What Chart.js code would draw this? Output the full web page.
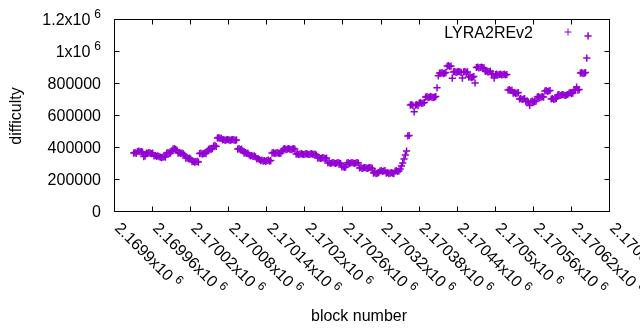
<!DOCTYPE html>
<html><head><meta charset="utf-8">
<script src="https://cdn.jsdelivr.net/npm/chart.js@4.4.1/dist/chart.umd.min.js"></script>
<style>html,body{margin:0;padding:0;background:#fff;}#wrap{width:640px;height:330px;}</style>
</head><body><div id="wrap"><canvas id="c" width="640" height="330"></canvas></div>
<script>
const seriesName = 'LYRA2REv2';
const xTitle = 'block number';
const yTitle = 'difficulty';
// sampled blocks: first block number and spacing between sampled blocks
const firstBlock = 2169931;
const blockStep = 2;
const difficulty = [
  362000, 365000, 360000,
  372000, 375000, 370000, 372000, 368000,
  340000, 345000,
  362000, 360000, 365000, 362000, 358000, 362000,
  344000, 347000, 342000, 344000, 340000,
  337000, 334000, 337000, 340000, 337000,
  362000, 365000, 360000, 362000, 375000,
  387000, 390000, 385000, 380000,
  362000, 365000, 360000, 362000, 358000, 350000,
  331000, 334000, 328000, 331000, 325000,
  308000, 310000, 306000, 308000, 310000, 306000,
  359000, 362000, 356000, 359000, 362000, 359000,
  375000, 385000, 388000, 385000, 390000,
  406000, 410000, 403000,
  456000, 459000, 453000, 456000,
  444000, 447000, 441000, 444000, 447000, 444000, 441000, 444000, 447000, 444000, 441000, 444000,
  387000, 390000, 384000, 387000, 375000,
  362000, 365000, 360000, 362000, 350000,
  344000, 347000, 341000, 344000, 338000,
  325000, 328000, 322000,
  315000, 318000, 312000, 315000, 310000, 315000, 318000, 312000, 315000,
  362000, 365000, 360000, 362000, 365000, 362000, 360000, 362000, 375000,
  387000, 390000, 384000, 387000, 390000, 387000, 384000, 387000, 390000, 387000,
  356000, 359000, 353000, 356000, 359000, 356000, 353000, 356000, 359000, 356000, 353000, 356000, 359000, 356000, 353000, 356000, 350000,
  331000, 334000, 328000, 331000, 334000, 331000, 328000, 331000,
  300000, 303000, 297000, 300000, 303000, 300000, 297000, 300000, 303000, 300000, 297000,
  275000, 278000, 272000, 275000,
  300000, 303000, 297000, 300000, 303000, 300000, 297000, 300000, 303000, 300000,
  269000, 272000, 266000, 269000, 272000, 269000, 266000, 269000, 272000, 269000, 266000,
  237000, 240000, 234000, 237000, 240000,
  250000, 253000, 247000, 250000, 253000,
  237000, 240000, 234000, 237000, 240000, 237000, 234000,
  250000, 253000, 247000, 250000,
  262000, 281000, 300000, 325000, 350000, 375000,
  469000, 472000,
  662000, 665000, 659000, 620000, 662000, 665000, 659000,
  675000, 678000, 672000, 675000, 678000,
  712000, 715000, 709000, 712000, 715000, 712000, 709000, 712000, 715000,
  770000, 845000, 862000,
  862000, 865000, 859000, 862000, 865000,
  906000, 909000, 903000, 906000,
  830000,
  869000, 872000, 866000, 869000, 872000, 869000, 866000, 831000, 869000, 872000, 866000, 869000,
  837000, 840000, 834000, 837000, 840000,
  800000,
  897000, 900000, 894000, 897000, 900000, 897000, 894000,
  872000, 875000, 869000, 872000, 875000,
  853000, 856000, 831000, 853000, 856000, 850000, 853000, 856000, 850000, 853000, 856000, 850000, 853000,
  756000, 759000, 753000, 756000,
  737000, 740000, 734000, 737000, 740000,
  700000, 703000, 697000, 700000, 703000,
  684000, 687000, 681000, 660000, 684000, 687000, 681000, 684000, 687000,
  712000, 715000, 709000, 712000, 715000, 712000,
  750000, 753000, 747000, 750000, 753000,
  700000, 703000, 697000, 700000, 703000,
  725000, 728000, 722000, 725000, 728000, 725000, 722000, 725000, 728000,
  737000, 740000, 734000, 737000,
  756000, 759000, 775000, 756000, 759000,
  862000, 865000, 859000, 862000, 865000,
  956000,
  1094000
];
const xTickValues = [2169900, 2169960, 2170020, 2170080, 2170140, 2170200, 2170260, 2170320, 2170380, 2170440, 2170500, 2170560, 2170620, 2170680];
const xTickLabels = ['2.1699x10^6', '2.16996x10^6', '2.17002x10^6', '2.17008x10^6', '2.17014x10^6', '2.1702x10^6', '2.17026x10^6', '2.17032x10^6', '2.17038x10^6', '2.17044x10^6', '2.1705x10^6', '2.17056x10^6', '2.17062x10^6', '2.17068x10^6'];
const yTickValues = [0, 200000, 400000, 600000, 800000, 1000000, 1200000];
const yTickLabels = ['0', '200000', '400000', '600000', '800000', '1x10^6', '1.2x10^6'];

const COLOR = '#9400d3';
const FONT = '"Liberation Sans", Arial, sans-serif';
const F16 = '16px ' + FONT, F12 = '12px ' + FONT;

function supWidth(ctx, label) {
  const [base, sup] = label.split('^');
  ctx.font = F16; let w = ctx.measureText(base).width;
  if (sup !== undefined) { ctx.font = F12; w += 4 + ctx.measureText(sup).width; }
  return w;
}
function drawSup(ctx, label, x, y) { // x = start, y = alphabetic baseline
  const [base, sup] = label.split('^');
  ctx.textAlign = 'left'; ctx.textBaseline = 'alphabetic';
  ctx.font = F16; ctx.fillText(base, x, y);
  if (sup !== undefined) {
    const w = ctx.measureText(base).width;
    ctx.font = F12; ctx.fillText(sup, x + w + 4, y - 6.4);
  }
}

const frame = {
  id: 'frame',
  afterDraw(chart) {
    const {ctx, chartArea: a, scales: {x, y}} = chart;
    ctx.save();
    ctx.strokeStyle = '#000'; ctx.lineWidth = 1;
    const L = Math.round(a.left) + 0.5, R = Math.round(a.right) + 0.5,
          T = Math.round(a.top) + 0.5, B = Math.round(a.bottom) + 0.5;
    ctx.beginPath();
    yTickValues.forEach(v => {
      const py = Math.round(y.getPixelForValue(v)) + 0.5;
      ctx.moveTo(L, py); ctx.lineTo(L + 5, py);
      ctx.moveTo(R, py); ctx.lineTo(R - 5, py);
    });
    xTickValues.forEach(v => {
      const px = Math.round(x.getPixelForValue(v)) + 0.5;
      ctx.moveTo(px, B); ctx.lineTo(px, B - 5);
      ctx.moveTo(px, T); ctx.lineTo(px, T + 5);
    });
    ctx.stroke();
    ctx.beginPath(); ctx.rect(L, T, R - L, B - T); ctx.stroke();

    ctx.fillStyle = '#000';
    // y tick labels
    yTickValues.forEach((v, i) => {
      const py = y.getPixelForValue(v);
      const w = supWidth(ctx, yTickLabels[i]);
      drawSup(ctx, yTickLabels[i], 101 - w, py + 5.8);
    });
    // x tick labels rotated
    xTickValues.forEach((v, i) => {
      const px = x.getPixelForValue(v);
      ctx.save();
      ctx.translate(px, 229);
      ctx.rotate(Math.PI / 4);
      drawSup(ctx, xTickLabels[i], 0, 0);
      ctx.restore();
    });
    // axis titles
    ctx.font = F16; ctx.textAlign = 'center'; ctx.textBaseline = 'alphabetic';
    ctx.fillText(xTitle, 359, 321);
    ctx.save();
    ctx.translate(21, 116); ctx.rotate(-Math.PI / 2);
    ctx.fillText(yTitle, 0, 0);
    ctx.restore();
    // key
    ctx.textAlign = 'right';
    ctx.fillText(seriesName, 533, 37.5);
    ctx.strokeStyle = COLOR; ctx.lineWidth = 1;
    ctx.beginPath();
    ctx.moveTo(564.5, 32); ctx.lineTo(571.5, 32);
    ctx.moveTo(568, 28.5); ctx.lineTo(568, 35.5);
    ctx.stroke();
    ctx.restore();
  }
};

new Chart(document.getElementById('c'), {
  type: 'scatter',
  data: {
    datasets: [{
      label: seriesName,
      data: difficulty.map((d, i) => ({x: firstBlock + i * blockStep, y: d})),
      pointStyle: 'cross',
      pointRadius: 3.6,
      pointHoverRadius: 3.6,
      borderColor: COLOR,
      backgroundColor: COLOR,
      borderWidth: 1.5,
      showLine: false
    }]
  },
  options: {
    responsive: false,
    animation: false,
    events: [],
    layout: {padding: {left: 114, right: 31, top: 19, bottom: 119}},
    scales: {
      x: {type: 'linear', display: false, min: xTickValues[0], max: xTickValues[xTickValues.length - 1]},
      y: {type: 'linear', display: false, min: yTickValues[0], max: yTickValues[yTickValues.length - 1]}
    },
    plugins: {legend: {display: false}, tooltip: {enabled: false}}
  },
  plugins: [frame]
});
</script>
</body></html>
